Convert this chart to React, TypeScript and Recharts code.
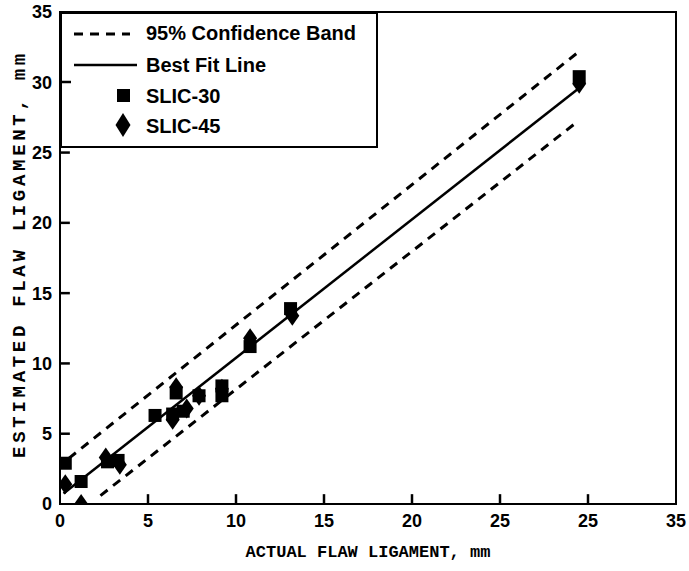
import {
  ComposedChart,
  Line,
  Scatter,
  XAxis,
  YAxis,
  Legend,
  ReferenceArea,
  ReferenceLine,
} from "recharts";

// SLIC-30 (squares)
const slic30X = [0.3, 1.2, 2.7, 3.3, 5.4, 6.4, 6.6, 7.0, 7.9, 9.2, 9.2, 10.8, 13.1, 29.5];
const slic30Y = [2.9, 1.6, 3.0, 3.1, 6.3, 6.4, 7.9, 6.6, 7.7, 8.4, 7.7, 11.2, 13.9, 30.4];

// SLIC-45 (diamonds)
const slic45X = [0.3, 1.2, 2.6, 3.4, 6.4, 6.6, 7.2, 7.9, 9.2, 10.8, 13.2, 29.5];
const slic45Y = [1.4, 0.0, 3.3, 2.8, 6.0, 8.3, 6.8, 7.7, 8.2, 11.8, 13.4, 29.9];

// line end points
const fitX = [0.2, 29.5];
const fitY = [0.75, 29.6];
const upperX = [0.5, 29.4];
const upperY = [3.25, 32.1];
const lowerX = [2.3, 29.4];
const lowerY = [0.6, 27.2];

const xTicks = [0, 5, 10, 15, 20, 25, 30, 35];
const xTickLabels = ["0", "5", "10", "15", "20", "25", "25", "35"];
const yTicks = [0, 5, 10, 15, 20, 25, 30, 35];

const zip = (xs: number[], ys: number[]) => xs.map((x, i) => ({ x, y: ys[i] }));

const slic30 = zip(slic30X, slic30Y);
const slic45 = zip(slic45X, slic45Y);
const fit = zip(fitX, fitY);
const upper = zip(upperX, upperY);
const lower = zip(lowerX, lowerY);

const sans = "Liberation Sans, Arial, sans-serif";
const mono = "Liberation Mono, monospace";

// inner tick mark length, in axis units (about 10px)
const X_TICK_LEN = 0.7;
const Y_TICK_LEN = 0.56;

const XTick = (props: any) => {
  const { x, y, payload } = props;
  return (
    <text x={x} y={y} dy="0.71em" textAnchor="middle" fontFamily={sans} fontSize={18} fontWeight="bold" fill="#000">
      {xTickLabels[xTicks.indexOf(payload.value)]}
    </text>
  );
};

const YTick = (props: any) => {
  const { x, y, payload } = props;
  return (
    <text x={x} y={y} dy="0.355em" textAnchor="end" fontFamily={sans} fontSize={18} fontWeight="bold" fill="#000">
      {payload.value}
    </text>
  );
};

const YTitle = (props: any) => {
  const vb = props.viewBox || {};
  const cx = (vb.x ?? 0) + 20;
  const cy = (vb.y ?? 12) + (vb.height ?? 492) / 2 - 4;
  return (
    <text
      x={cx}
      y={cy}
      transform={`rotate(-90, ${cx}, ${cy})`}
      textAnchor="middle"
      dominantBaseline="central"
      fontFamily={mono}
      fontSize={19}
      fontWeight="bold"
      letterSpacing={3.7}
      fill="#000"
    >
      ESTIMATED FLAW LIGAMENT, mm
    </text>
  );
};

const Square = (props: any) => {
  const { cx, cy } = props;
  return <rect x={cx - 6.5} y={cy - 6.5} width={13} height={13} fill="#000" />;
};

const Diamond = (props: any) => {
  const { cx, cy } = props;
  return <path d={`M${cx},${cy - 10} L${cx + 7},${cy} L${cx},${cy + 10} L${cx - 7},${cy} Z`} fill="#000" />;
};

const legendItems = ["95% Confidence Band", "Best Fit Line", "SLIC-30", "SLIC-45"];

const LegendBox = () => (
  <svg width={318} height={136} style={{ display: "block" }}>
    <rect x={1} y={1} width={316} height={134} fill="#fff" stroke="#000" strokeWidth={2} />
    <line x1={14} x2={70} y1={22} y2={22} stroke="#000" strokeWidth={3} strokeDasharray="9 7" />
    <line x1={14} x2={77} y1={53} y2={53} stroke="#000" strokeWidth={2.5} />
    <line x1={1} x2={11} y1={70} y2={70} stroke="#000" strokeWidth={2.5} />
    <rect x={57} y={77} width={13} height={13} fill="#000" />
    <path d="M63,101 L70.5,113 L63,125 L55.5,113 Z" fill="#000" />
    {legendItems.map((t, i) => (
      <text key={t} x={86} y={[28, 59.5, 91, 121][i]} fontFamily={sans} fontSize={20} fontWeight="bold" fill="#000">
        {t}
      </text>
    ))}
  </svg>
);

export default function App() {
  return (
    <div style={{ position: "absolute", left: 0, top: 0, background: "#fff" }}>
      <ComposedChart width={689} height={571} margin={{ top: 12, right: 13, left: 0, bottom: 0 }}>
        <XAxis
          dataKey="x"
          type="number"
          domain={[0, 35]}
          ticks={xTicks}
          height={67}
          tickSize={0}
          tickMargin={10}
          tick={<XTick />}
          axisLine={{ stroke: "#000", strokeWidth: 2 }}
          tickLine={false}
          allowDataOverflow
          label={{
            value: "ACTUAL FLAW LIGAMENT, mm",
            position: "insideBottom",
            offset: 14,
            style: { fontFamily: mono, fontSize: 17, fontWeight: "bold", fill: "#000" },
          }}
        />
        <YAxis
          dataKey="y"
          type="number"
          domain={[0, 35]}
          ticks={yTicks}
          width={60}
          tickSize={0}
          tickMargin={8}
          tick={<YTick />}
          axisLine={{ stroke: "#000", strokeWidth: 2 }}
          tickLine={false}
          allowDataOverflow
          label={YTitle}
        />
        <ReferenceArea x1={0} x2={35} y1={0} y2={35} fill="none" stroke="#000" strokeWidth={2} ifOverflow="visible" />
        {xTicks.slice(1, -1).map((t) => (
          <ReferenceLine
            key={`xt-${t}`}
            segment={[{ x: t, y: 0 }, { x: t, y: X_TICK_LEN }]}
            stroke="#000"
            strokeWidth={2.5}
            ifOverflow="visible"
          />
        ))}
        {yTicks.slice(1, -1).map((t) => (
          <ReferenceLine
            key={`yt-${t}`}
            segment={[{ x: 0, y: t }, { x: Y_TICK_LEN, y: t }]}
            stroke="#000"
            strokeWidth={2.5}
            ifOverflow="visible"
          />
        ))}
        <Line data={upper} dataKey="y" stroke="#000" strokeWidth={3} strokeDasharray="9 7" dot={false} isAnimationActive={false} legendType="none" />
        <Line data={lower} dataKey="y" stroke="#000" strokeWidth={3} strokeDasharray="9 7" dot={false} isAnimationActive={false} legendType="none" />
        <Line data={fit} dataKey="y" stroke="#000" strokeWidth={2.5} dot={false} isAnimationActive={false} legendType="none" />
        <Scatter data={slic30} dataKey="y" shape={<Square />} isAnimationActive={false} />
        <Scatter data={slic45} dataKey="y" shape={<Diamond />} isAnimationActive={false} />
        <Legend
          layout="horizontal"
          verticalAlign="middle"
          align="center"
          wrapperStyle={{ left: 60, top: 12, width: 318, height: 136 }}
          content={() => <LegendBox />}
        />
      </ComposedChart>
    </div>
  );
}
